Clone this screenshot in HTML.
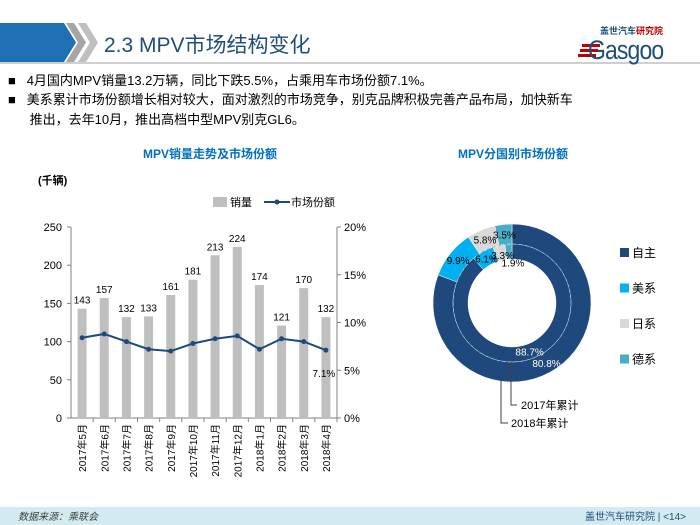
<!DOCTYPE html>
<html><head><meta charset="utf-8"><style>
body{margin:0;width:700px;height:525px;overflow:hidden;background:#fff;font-family:"Liberation Sans","Noto Sans CJK SC",sans-serif;position:relative}
.abs{position:absolute;white-space:nowrap}
</style></head><body>
<svg class="abs" style="left:0;top:0" width="700" height="525">
<polygon points="0,23 64,23 76,42.5 64,62 0,62" fill="#1f6fb5"/>
<polygon points="66,23 74,23 86,42.5 74,62 66,62 78,42.5" fill="#a6a6a6"/>
<polygon points="78,23 86,23 98,42.5 86,62 78,62 90,42.5" fill="#bfbfbf"/>
<line x1="0" y1="63" x2="700" y2="63" stroke="#bfbfbf" stroke-width="1.5"/>
<rect x="0" y="507" width="700" height="18" fill="#d3eaf0"/>
<rect x="582" y="44" width="18" height="3" fill="#c00000"/>
<rect x="580" y="49" width="18" height="3" fill="#c00000"/>
<rect x="578" y="54" width="18" height="3" fill="#c00000"/>
</svg>
<div class="abs" style="left:104px;top:29px;font-size:21px;color:#1f4e79">2.3 MPV市场结构变化</div>
<div class="abs" style="left:588px;top:24px;">
<div style="font-size:9px;color:#1f4e79;margin-left:12px;font-weight:bold">盖世汽车<span style="color:#c00000">研究院</span></div>
<div style="font-size:27px;color:#1f4e79;line-height:26px;letter-spacing:-1px;transform:scaleX(0.85);transform-origin:left">Gasgoo</div></div>
<div class="abs" style="left:8px;top:70px;font-size:13px;color:#000">■&nbsp;&nbsp;&nbsp;4月国内MPV销量13.2万辆，同比下跌5.5%，占乘用车市场份额7.1%。</div>
<div class="abs" style="left:8px;top:90px;font-size:13px;color:#000;line-height:20px">■&nbsp;&nbsp;&nbsp;美系累计市场份额增长相对较大，面对激烈的市场竞争，别克品牌积极完善产品布局，加快新车<br>&nbsp;&nbsp;&nbsp;&nbsp;&nbsp;&nbsp;推出，去年10月，推出高档中型MPV别克GL6。</div>

<svg id="bar" class="abs" style="left:0;top:0" width="400" height="505">
<text x="210" y="158" text-anchor="middle" font-size="12" font-weight="bold" fill="#0070c0">MPV销量走势及市场份额</text>
<text x="38" y="184" font-size="11" font-weight="bold" fill="#000">(千辆)</text>
<rect x="213" y="197" width="14" height="10" fill="#bfbfbf"/>
<text x="230" y="206" font-size="11">销量</text>
<line x1="264" y1="202" x2="290" y2="202" stroke="#1f497d" stroke-width="2"/>
<circle cx="277" cy="202" r="2.5" fill="#1f497d"/>
<text x="291" y="206" font-size="11">市场份额</text>
</svg>

<svg id="donut" class="abs" style="left:0;top:0" width="700" height="505">
<text x="513" y="158" text-anchor="middle" font-size="12" font-weight="bold" fill="#0070c0">MPV分国别市场份额</text>
</svg>

<div class="abs" style="left:18px;top:508px;font-size:10px;color:#404040;font-style:italic">数据来源：乘联会</div>
<div class="abs" style="right:14px;top:508px;font-size:10px;color:#1f4e79">盖世汽车研究院 | &lt;14&gt;</div>

<script>
const months=["2017年5月","2017年6月","2017年7月","2017年8月","2017年9月","2017年10月","2017年11月","2017年12月","2018年1月","2018年2月","2018年3月","2018年4月"];
const sales=[143,157,132,133,161,181,213,224,174,121,170,132];
const share=[8.4,8.8,8.0,7.2,7.0,7.8,8.3,8.6,7.2,8.3,8.0,7.1];
const leftTicks=[0,50,100,150,200,250];
const rightTicks=[0,5,10,15,20];
const countries=["自主","美系","日系","德系"];
const share2017=[88.7,6.1,3.3,1.9];
const share2018=[80.8,9.9,5.8,3.5];
const colors=["#1f497d","#00b0f0","#d9d9d9","#4bacc6"];
const NS="http://www.w3.org/2000/svg";
function mk(p,t,a,txt){const e=document.createElementNS(NS,t);for(const k in a)e.setAttribute(k,a[k]);if(txt!==undefined)e.textContent=txt;p.appendChild(e);return e;}
const bar=document.getElementById('bar');
const X0=71,X1=337,Y0=418,YT=227;
const yL=v=>Y0-(v/250)*(Y0-YT);
const yR=v=>Y0-(v/20)*(Y0-YT);
const step=(X1-X0)/months.length;
const xc=i=>X0+step*(i+0.5);
mk(bar,'line',{x1:X0,y1:YT,x2:X0,y2:Y0,stroke:'#808080'});
mk(bar,'line',{x1:X1,y1:YT,x2:X1,y2:Y0,stroke:'#808080'});
mk(bar,'line',{x1:X0,y1:Y0,x2:X1,y2:Y0,stroke:'#808080'});
leftTicks.forEach(v=>{mk(bar,'line',{x1:X0-4,y1:yL(v),x2:X0,y2:yL(v),stroke:'#808080'});
 const t=mk(bar,'text',{x:X0-9,y:yL(v)+4,'text-anchor':'end','font-size':11},v);
 });
rightTicks.forEach(v=>{mk(bar,'line',{x1:X1,y1:yR(v),x2:X1+4,y2:yR(v),stroke:'#808080'});
 const t=mk(bar,'text',{x:X1+7,y:yR(v)+4,'font-size':11},v+'%');
 });
months.forEach((m,i)=>{
 mk(bar,'line',{x1:X0+step*(i+1),y1:Y0,x2:X0+step*(i+1),y2:Y0+4,stroke:'#808080'});
 const r=mk(bar,'rect',{x:xc(i)-4.5,y:yL(sales[i]),width:9,height:Y0-yL(sales[i]),fill:'#bfbfbf'});
 
 const l=mk(bar,'text',{x:xc(i),y:yL(sales[i])-5,'text-anchor':'middle','font-size':10},sales[i]);
 
 const t=mk(bar,'text',{x:0,y:0,'text-anchor':'end','font-size':10,transform:`translate(${xc(i)+4},${Y0+6}) rotate(-90)`},m);
 
});
const pl=mk(bar,'polyline',{points:share.map((v,i)=>xc(i)+','+yR(v)).join(' '),fill:'none',stroke:'#1f497d','stroke-width':2});

share.forEach((v,i)=>{const c=mk(bar,'circle',{cx:xc(i),cy:yR(v),r:2.5,fill:'#1f497d'});
 });
const li=share.length-1;
const sl=mk(bar,'text',{x:xc(li)-2,y:yR(share[li])+27,'text-anchor':'middle','font-size':10},share[li].toFixed(1)+'%');


const dn=document.getElementById('donut');
const CX=512,CY=303;
function arc(r0,r1,a0,a1){const p=(r,a)=>[CX+r*Math.sin(a),CY-r*Math.cos(a)];const lg=a1-a0>Math.PI?1:0;
 const [x1,y1]=p(r1,a0),[x2,y2]=p(r1,a1),[x3,y3]=p(r0,a1),[x4,y4]=p(r0,a0);
 return `M${x1},${y1}A${r1},${r1} 0 ${lg} 1 ${x2},${y2}L${x3},${y3}A${r0},${r0} 0 ${lg} 0 ${x4},${y4}Z`;}
const labels=[];
function ring(vals,r0,r1,name,bigAng,inner){const tot=vals.reduce((a,b)=>a+b,0);let a=0;
 vals.forEach((v,i)=>{const a1=a+v/tot*2*Math.PI;
  const p=mk(dn,'path',{d:arc(r0,r1,a,a1),fill:colors[i],stroke:'#fff','stroke-width':0.5});
  
  const mid=i===0?bigAng:(a+a1)/2,rm=(r0+r1)/2;
  let dy=4,dx=0;
  if(inner&&i===3){dy=15;dx=4;}
  if(inner&&i===2){dy=6;dx=2;}
  labels.push([CX+rm*Math.sin(mid)+dx,CY-rm*Math.cos(mid)+dy,i===0?'#fff':'#000',v.toFixed(1)+'%']);
  a=a1;});}
ring(share2018,59,79,'slice-2018',150*Math.PI/180,false);
ring(share2017,44,59,'slice-2017',160*Math.PI/180,true);
mk(dn,'circle',{cx:CX,cy:CY,r:59,fill:'none',stroke:'#7f9cc0','stroke-dasharray':'3,3','stroke-width':0.6});
labels.forEach(l=>{const t=mk(dn,'text',{x:l[0],y:l[1],'text-anchor':'middle','font-size':10,fill:l[2]},l[3]);
 });
mk(dn,'polyline',{points:`${CX-1},${CY+59} ${CX-1},${CY+102} ${CX+5},${CY+102}`,fill:'none',stroke:'#404040'});
mk(dn,'polyline',{points:`${CX-11},${CY+76} ${CX-11},${CY+120} ${CX-4},${CY+120}`,fill:'none',stroke:'#404040'});
let t=mk(dn,'text',{x:CX+9,y:CY+106,'font-size':11},'2017年累计');
t=mk(dn,'text',{x:CX-1,y:CY+124,'font-size':11},'2018年累计');
countries.forEach((c,i)=>{const y=253+i*35.5;
 const r=mk(dn,'rect',{x:620,y:y-5,width:9,height:9,fill:colors[i]});
 const tx=mk(dn,'text',{x:632,y:y+4,'font-size':12},c);});
</script>
</body></html>
